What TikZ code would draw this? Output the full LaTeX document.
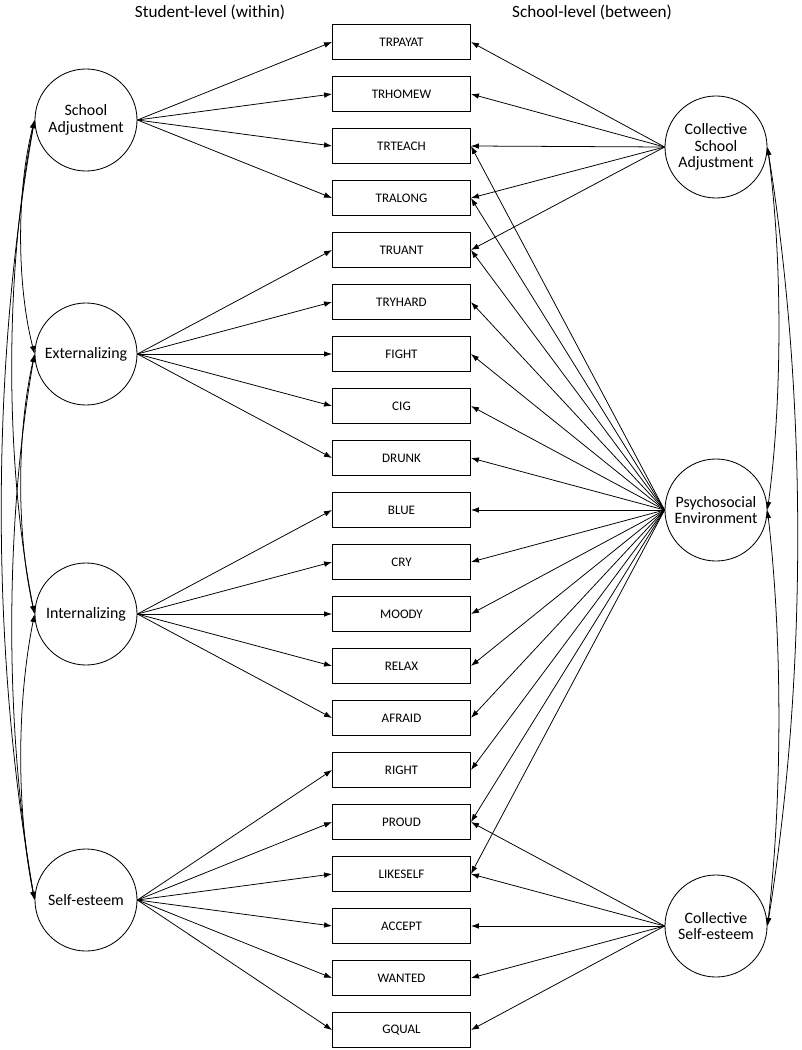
\documentclass[tikz,border=0pt]{standalone}
\usepackage{fontspec}
\setmainfont{Carlito}
\usetikzlibrary{arrows.meta}

\begin{document}
\begin{tikzpicture}[x=0.025cm, y=-0.025cm,
  fator/.style={draw, circle, line width=0.6pt, minimum size=2.55cm, inner sep=0pt, align=center, font=\fontsize{11.3}{11.8}\selectfont},
  item/.style={draw, rectangle, line width=0.6pt, minimum width=3.45cm, minimum height=0.86cm, inner sep=0pt, font=\fontsize{9.3}{11}\selectfont},
  seta/.style={-{Latex[length=2mm,width=1.4mm]}, line width=0.55pt},
  corr/.style={{Latex[length=2mm,width=1.4mm]}-{Latex[length=2mm,width=1.4mm]}, line width=0.55pt}]
  \useasboundingbox (0,0) rectangle (801,1050);

  % Titulos
  \node[font=\fontsize{12.2}{14}\selectfont] (tw) at (210,12) {Student-level (within)};
  \node[font=\fontsize{12.2}{14}\selectfont] (tb) at (592,12) {School-level (between)};

  % Indicadores
  \foreach \nome [count=\i from 0] in {TRPAYAT,TRHOMEW,TRTEACH,TRALONG,TRUANT,TRYHARD,FIGHT,CIG,DRUNK,BLUE,CRY,MOODY,RELAX,AFRAID,RIGHT,PROUD,LIKESELF,ACCEPT,WANTED,GQUAL}
    \node[item] (\nome) at (401.5,42+52*\i) {\nome};

  % Fatores (within)
  \node[fator] (sa)  at (86,120) {School\\Adjustment};
  \node[fator] (ext) at (86,354) {Externalizing};
  \node[fator] (int) at (86,614) {Internalizing};
  \node[fator] (se)  at (86,900) {Self-esteem};

  % Fatores (between)
  \node[fator] (csa) at (716,147) {Collective\\School\\Adjustment};
  \node[fator] (pe)  at (716,510) {Psychosocial\\Environment};
  \node[fator] (cse) at (716,926) {Collective\\Self-esteem};

  % Cargas within
  \foreach \t in {TRPAYAT,TRHOMEW,TRTEACH,TRALONG}
    \draw[seta] (sa.east) -- (\t.west);
  \foreach \t in {TRUANT,TRYHARD,FIGHT,CIG,DRUNK}
    \draw[seta] (ext.east) -- (\t.west);
  \foreach \t in {BLUE,CRY,MOODY,RELAX,AFRAID}
    \draw[seta] (int.east) -- (\t.west);
  \foreach \t in {RIGHT,PROUD,LIKESELF,ACCEPT,WANTED,GQUAL}
    \draw[seta] (se.east) -- (\t.west);

  % Cargas between
  \foreach \t in {TRPAYAT,TRHOMEW,TRTEACH,TRALONG,TRUANT}
    \draw[seta] (csa.west) -- (\t.east);
  \foreach \t in {TRTEACH,TRALONG,TRUANT,TRYHARD,FIGHT,CIG,DRUNK,BLUE,CRY,MOODY,RELAX,AFRAID,RIGHT,PROUD,LIKESELF}
    \draw[seta] (pe.west) -- (\t.east);
  \foreach \t in {PROUD,LIKESELF,ACCEPT,WANTED,GQUAL}
    \draw[seta] (cse.west) -- (\t.east);

  % Correlacoes within
  \draw[corr] (sa.west)  .. controls +(-18,70)  and +(-18,-70)  .. (ext.west);
  \draw[corr] (ext.west) .. controls +(-18,80)  and +(-18,-80)  .. (int.west);
  \draw[corr] (int.west) .. controls +(-18,90)  and +(-18,-90)  .. (se.west);
  \draw[corr] (sa.west)  .. controls +(-30,150) and +(-30,-150) .. (int.west);
  \draw[corr] (ext.west) .. controls +(-30,170) and +(-30,-170) .. (se.west);
  \draw[corr] (sa.west)  .. controls +(-44,250) and +(-44,-250) .. (se.west);

  % Correlacoes between
  \draw[corr] (csa.east) .. controls +(15,110) and +(15,-110) .. (pe.east);
  \draw[corr] (pe.east)  .. controls +(15,130) and +(15,-130) .. (cse.east);
  \draw[corr] (csa.east) .. controls +(40,250) and +(40,-250) .. (cse.east);
\end{tikzpicture}
\end{document}
